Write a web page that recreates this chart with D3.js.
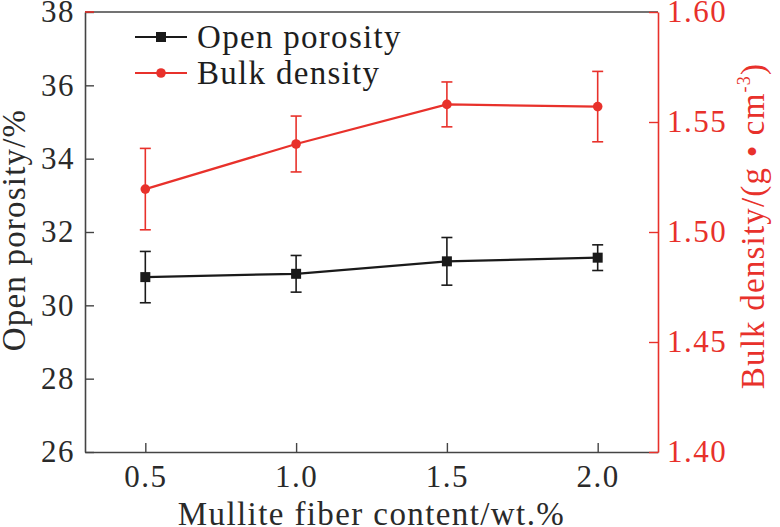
<!DOCTYPE html>
<html><head><meta charset="utf-8">
<script src="https://cdn.jsdelivr.net/npm/d3@7"></script>
<style>body{margin:0;background:#fff}svg{display:block}svg text{font-family:"Liberation Serif","Tinos","Times New Roman",Times,"DejaVu Serif","Noto Serif",serif !important}</style>
</head><body>
<svg id="c" width="780" height="527"></svg>
<script>
const fiberContent = [0.5, 1.0, 1.5, 2.0];
const openPorosity = [30.77, 30.86, 31.2, 31.3];
const openPorosityErr = [0.7, 0.5, 0.65, 0.35];
const bulkDensity = [1.5195, 1.540, 1.558, 1.557];
const bulkDensityErr = [0.0185, 0.0127, 0.0102, 0.016];
const xTicks = [0.5, 1.0, 1.5, 2.0];
const leftTicks = [26, 28, 30, 32, 34, 36, 38];
const rightTicks = [1.40, 1.45, 1.50, 1.55, 1.60];
const seriesNames = ["Open porosity", "Bulk density"];

const RED = "#e8312b", BLACK = "#1a1a1a", AX = "#444", TXT = "#2a2a2a";
const m = {l:85, r:658, t:12, b:452};
const svg = d3.select("#c");
const x = d3.scaleLinear().domain([0.3, 2.2]).range([m.l, m.r]);
const yL = d3.scaleLinear().domain([26, 38]).range([m.b, m.t]);
const yR = d3.scaleLinear().domain([1.40, 1.60]).range([m.b, m.t]);
const FS = 31, TS = 33;

svg.append("line").attr("x1", m.l).attr("x2", m.r).attr("y1", m.t).attr("y2", m.t).attr("stroke", AX).attr("stroke-width", 1.6);

const gx = svg.append("g").attr("transform", `translate(0,${m.b})`)
  .call(d3.axisBottom(x).tickValues(xTicks).tickFormat(d3.format(".1f")).tickSizeInner(-9).tickSizeOuter(0).tickPadding(13));
const gl = svg.append("g").attr("transform", `translate(${m.l},0)`)
  .call(d3.axisLeft(yL).tickValues(leftTicks).tickFormat(d3.format("d")).tickSizeInner(-9).tickSizeOuter(0).tickPadding(10));
const gr = svg.append("g").attr("transform", `translate(${m.r},0)`)
  .call(d3.axisRight(yR).tickValues(rightTicks).tickFormat(d3.format(".2f")).tickSizeInner(-9).tickSizeOuter(0).tickPadding(9));
[gx, gl].forEach(g => {
  g.select(".domain").attr("stroke", AX).attr("stroke-width", 1.6);
  g.selectAll(".tick line").attr("stroke", AX).attr("stroke-width", 1.4);
  g.selectAll(".tick text").attr("fill", TXT).style("font-size", FS + "px");
});
gr.select(".domain").attr("stroke", RED).attr("stroke-width", 1.6);
gr.selectAll(".tick line").attr("stroke", RED).attr("stroke-width", 1.4);
gr.selectAll(".tick text").attr("fill", RED).style("font-size", FS + "px");
gx.selectAll(".tick text").attr("dy", "0.71em");
svg.selectAll(".tick text").style("letter-spacing", "1.5px");
// small red corner mark seen at top-left in the original
svg.append("line").attr("x1", m.l).attr("x2", m.l + 9).attr("y1", m.t).attr("y2", m.t).attr("stroke", RED).attr("stroke-width", 1.6);

svg.append("text").attr("x", (m.l + m.r) / 2).attr("y", 525).attr("text-anchor", "middle")
  .attr("fill", TXT).style("font-size", TS + "px").style("letter-spacing", "1.4px").text("Mullite fiber content/wt.%");
svg.append("text").attr("transform", `translate(25,230) rotate(-90)`).attr("text-anchor", "middle")
  .attr("fill", TXT).style("font-size", TS + "px").style("letter-spacing", "1.2px").text("Open porosity/%");
const rt = svg.append("text").attr("transform", `translate(764,226) rotate(-90)`).attr("text-anchor", "middle")
  .attr("fill", RED).style("font-size", TS + "px").style("letter-spacing", "1.2px");
rt.append("tspan").text("Bulk density/(g • cm");
rt.append("tspan").attr("dy", -14).style("font-size", "18px").text("-3");
rt.append("tspan").attr("dy", 14).text(")");

function errBars(vals, errs, y, color) {
  const g = svg.append("g").attr("stroke", color).attr("stroke-width", 1.6);
  fiberContent.forEach((c, i) => {
    const cx = x(c), y1 = y(vals[i] + errs[i]), y2 = y(vals[i] - errs[i]);
    g.append("line").attr("x1", cx).attr("x2", cx).attr("y1", y1).attr("y2", y2);
    g.append("line").attr("x1", cx - 5.5).attr("x2", cx + 5.5).attr("y1", y1).attr("y2", y1);
    g.append("line").attr("x1", cx - 5.5).attr("x2", cx + 5.5).attr("y1", y2).attr("y2", y2);
  });
}
errBars(openPorosity, openPorosityErr, yL, BLACK);
errBars(bulkDensity, bulkDensityErr, yR, RED);

const lineL = d3.line().x((d, i) => x(fiberContent[i])).y(d => yL(d));
const lineR = d3.line().x((d, i) => x(fiberContent[i])).y(d => yR(d));
svg.append("path").datum(openPorosity).attr("d", lineL).attr("fill", "none").attr("stroke", BLACK).attr("stroke-width", 2.2);
svg.append("path").datum(bulkDensity).attr("d", lineR).attr("fill", "none").attr("stroke", RED).attr("stroke-width", 2.2);
svg.selectAll(".sq").data(openPorosity).join("rect").attr("class", "sq")
  .attr("x", (d, i) => x(fiberContent[i]) - 5).attr("y", d => yL(d) - 5).attr("width", 10).attr("height", 10).attr("fill", BLACK);
svg.selectAll(".ci").data(bulkDensity).join("circle").attr("class", "ci")
  .attr("cx", (d, i) => x(fiberContent[i])).attr("cy", d => yR(d)).attr("r", 4.8).attr("fill", RED);

const lg = svg.append("g");
[[seriesNames[0], BLACK, "sq", 37], [seriesNames[1], RED, "ci", 73]].forEach(([name, col, type, ly]) => {
  lg.append("line").attr("x1", 135).attr("x2", 187).attr("y1", ly).attr("y2", ly).attr("stroke", col).attr("stroke-width", 2.2);
  if (type === "sq") lg.append("rect").attr("x", 156).attr("y", ly - 5).attr("width", 10).attr("height", 10).attr("fill", col);
  else lg.append("circle").attr("cx", 161).attr("cy", ly).attr("r", 4.8).attr("fill", col);
  lg.append("text").attr("x", 197).attr("y", ly + 11).attr("fill", "#1e1e1e").style("font-size", TS + "px").style("letter-spacing", "1.3px").text(name);
});
</script>
</body></html>
